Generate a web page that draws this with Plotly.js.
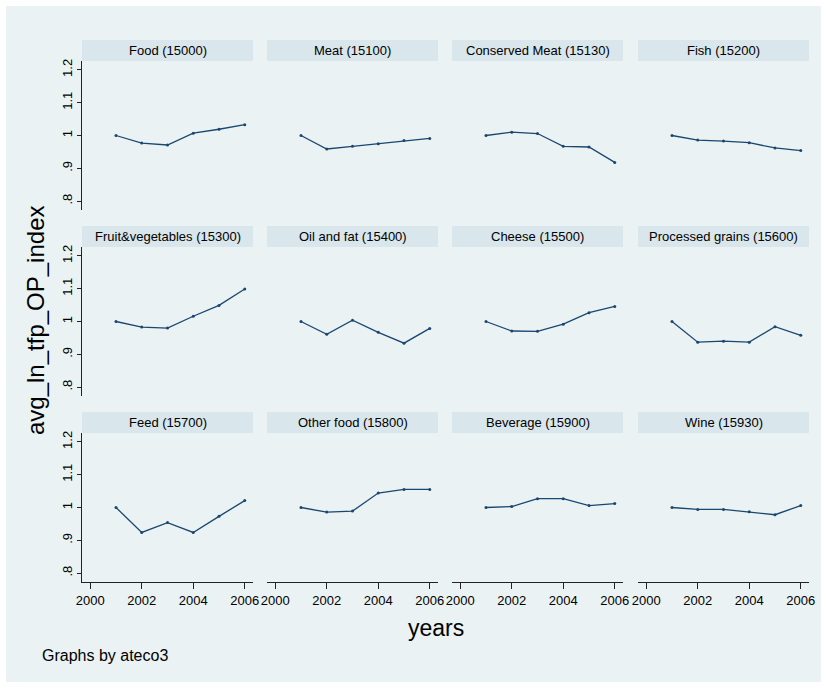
<!DOCTYPE html>
<html>
<head>
<meta charset="utf-8">
<script src="https://cdn.plot.ly/plotly-3.0.1.min.js"></script>
<style>html,body{margin:0;padding:0;background:#fff;}#chart{width:827px;height:688px;}</style>
</head>
<body>
<div id="chart"></div>
<script>
// ---- data ----
const years = [2001, 2002, 2003, 2004, 2005, 2006];
const panelTitles = [
  "Food (15000)", "Meat (15100)", "Conserved Meat (15130)", "Fish (15200)",
  "Fruit&vegetables (15300)", "Oil and fat (15400)", "Cheese (15500)", "Processed grains (15600)",
  "Feed (15700)", "Other food (15800)", "Beverage (15900)", "Wine (15930)"
];
const food            = [1.000, 0.977, 0.971, 1.007, 1.019, 1.033];
const meat            = [1.000, 0.959, 0.967, 0.975, 0.985, 0.991];
const conservedMeat   = [1.000, 1.010, 1.006, 0.967, 0.965, 0.918];
const fish            = [1.000, 0.986, 0.983, 0.978, 0.962, 0.954];
const fruitVegetables = [1.000, 0.983, 0.980, 1.016, 1.049, 1.099];
const oilFat          = [1.000, 0.961, 1.004, 0.967, 0.934, 0.979];
const cheese          = [1.000, 0.971, 0.970, 0.992, 1.027, 1.046];
const processedGrains = [1.000, 0.937, 0.940, 0.937, 0.984, 0.958];
const feed            = [1.000, 0.924, 0.954, 0.924, 0.973, 1.021];
const otherFood       = [1.000, 0.986, 0.989, 1.044, 1.055, 1.055];
const beverage        = [1.000, 1.003, 1.027, 1.027, 1.006, 1.012];
const wine            = [1.000, 0.994, 0.994, 0.987, 0.978, 1.006];
const seriesList = [food, meat, conservedMeat, fish, fruitVegetables, oilFat,
                    cheese, processedGrains, feed, otherFood, beverage, wine];
const yTickVals = [0.8, 0.9, 1.0, 1.1, 1.2];
const yTickText = [".8", ".9", "1", "1.1", "1.2"];
const xTickVals = [2000, 2002, 2004, 2006];
const xTickText = ["2000", "2002", "2004", "2006"];
const yTitle = "avg_ln_tfp_OP_index";
const xTitle = "years";
const note = "Graphs by ateco3";

// ---- layout geometry (pixels) ----
const W = 827, H = 688;
const colLeft = [82, 267, 452, 638];
const panelW = 171;
const rowPlotTop = [61, 247, 433];
const plotH = 149;
const stripH = 21;
const px = v => v / W;
const py = v => 1 - v / H;

const lineColor = "#1A476F";
const outerBg = "#EAF2F3";
const stripBg = "#D9E6EB";
const gridCol = "#EAF2F3";
const axisCol = "#222";
const fontFam = "Liberation Sans, Arial, Helvetica, sans-serif";

const traces = [];
const layout = {
  width: W, height: H,
  margin: {l: 0, r: 0, t: 0, b: 0},
  paper_bgcolor: "#ffffff",
  plot_bgcolor: "#ffffff",
  showlegend: false,
  font: {family: fontFam, color: "#000"},
  shapes: [{
    type: "rect", xref: "paper", yref: "paper", layer: "below",
    x0: px(6), x1: px(821), y0: py(682), y1: py(6),
    fillcolor: outerBg, line: {width: 0}
  }],
  annotations: []
};

for (let i = 0; i < 12; i++) {
  const r = Math.floor(i / 4), c = i % 4;
  const n = i === 0 ? "" : String(i + 1);
  const xa = "xaxis" + n, ya = "yaxis" + n;
  const L = colLeft[c], T = rowPlotTop[r];
  traces.push({
    type: "scatter", mode: "lines+markers",
    x: years, y: seriesList[i],
    xaxis: "x" + n, yaxis: "y" + n,
    line: {color: lineColor, width: 1.3},
    marker: {color: lineColor, size: 3},
    hoverinfo: "x+y"
  });
  const bottomRow = r === 2, leftCol = c === 0;
  layout[xa] = {
    domain: [px(L), px(L + panelW)],
    anchor: "y" + n,
    range: [1999.68, 2006.32],
    tickvals: xTickVals, ticktext: xTickText,
    showgrid: false, zeroline: false,
    showline: bottomRow, linecolor: axisCol, linewidth: 1,
    ticks: bottomRow ? "outside" : "", ticklen: 6, tickcolor: axisCol, tickwidth: 1,
    showticklabels: bottomRow,
    tickfont: {size: 13, family: fontFam, color: "#000"},
    fixedrange: true
  };
  layout[ya] = {
    domain: [py(T + plotH), py(T)],
    anchor: "x" + n,
    range: [0.773, 1.227],
    tickvals: yTickVals, ticktext: yTickText,
    showgrid: true, gridcolor: gridCol, gridwidth: 1.5, zeroline: false,
    showline: leftCol, linecolor: axisCol, linewidth: 1,
    ticks: leftCol ? "outside" : "", ticklen: 4, tickcolor: axisCol, tickwidth: 1,
    showticklabels: leftCol, tickangle: -90,
    tickfont: {size: 13, family: fontFam, color: "#000"},
    fixedrange: true
  };
  // header strip
  layout.shapes.push({
    type: "rect", xref: "paper", yref: "paper", layer: "below",
    x0: px(L), x1: px(L + panelW), y0: py(T), y1: py(T - stripH),
    fillcolor: stripBg, line: {width: 0}
  });
  layout.annotations.push({
    xref: "paper", yref: "paper", x: px(L + panelW / 2), y: py(T - stripH / 2),
    text: panelTitles[i], showarrow: false, xanchor: "center", yanchor: "middle",
    font: {size: 13, family: fontFam, color: "#000"}
  });
}

// axis titles and note
layout.annotations.push({
  xref: "paper", yref: "paper", x: px(36), y: py(320),
  text: yTitle, textangle: -90, showarrow: false, xanchor: "center", yanchor: "middle",
  font: {size: 24, family: fontFam, color: "#000"}
});
layout.annotations.push({
  xref: "paper", yref: "paper", x: px(436), y: py(628),
  text: xTitle, showarrow: false, xanchor: "center", yanchor: "middle",
  font: {size: 23, family: fontFam, color: "#000"}
});
layout.annotations.push({
  xref: "paper", yref: "paper", x: px(40), y: py(655),
  text: note, showarrow: false, xanchor: "left", yanchor: "middle",
  font: {size: 16, family: fontFam, color: "#000"}
});

Plotly.newPlot("chart", traces, layout, {displayModeBar: false, staticPlot: true});
</script>
</body>
</html>
